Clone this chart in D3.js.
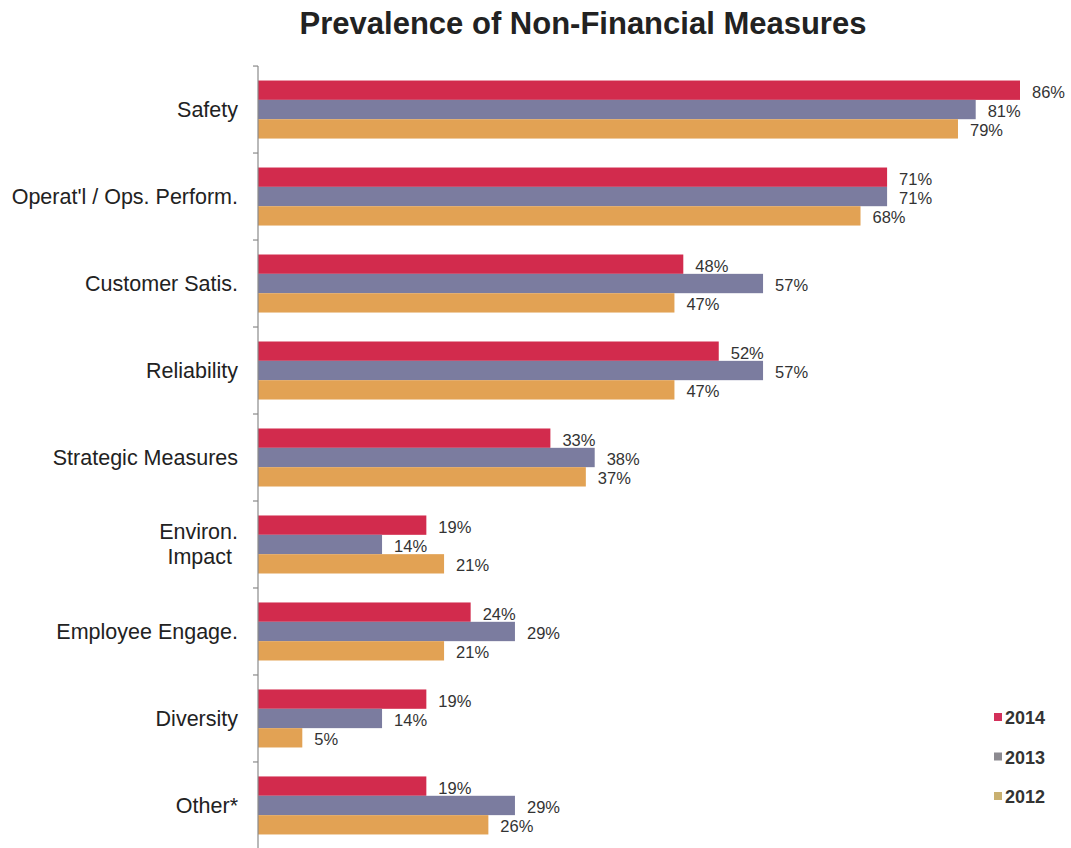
<!DOCTYPE html>
<html>
<head>
<meta charset="utf-8">
<script src="https://cdn.jsdelivr.net/npm/d3@7"></script>
<style>
  html, body { margin: 0; padding: 0; background: #fff; }
  svg { display: block; font-family: "Liberation Sans", Arial, sans-serif; }
</style>
</head>
<body>
<svg id="chart" width="1071" height="848"></svg>
<script>
// Non-financial measure categories (top to bottom)
const categories = [
  "Safety",
  "Operat'l / Ops. Perform.",
  "Customer Satis.",
  "Reliability",
  "Strategic Measures",
  "Environ.\nImpact",
  "Employee Engage.",
  "Diversity",
  "Other*"
];
const years = ["2014", "2013", "2012"];
const values2014 = [86, 71, 48, 52, 33, 19, 24, 19, 19];
const values2013 = [81, 71, 57, 57, 38, 14, 29, 14, 29];
const values2012 = [79, 68, 47, 47, 37, 21, 21, 5, 26];
const seriesValues = [values2014, values2013, values2012];

const barColors = ["#d22b4d", "#7b7c9f", "#e2a254"];
const legendColors = ["#d3305a", "#8c8a90", "#c9b070"];

const svg = d3.select("#chart");
const axisX = 258;

const x = d3.scaleLinear().domain([0, 86]).range([axisX, 1020]);
const y = d3.scaleBand().domain(categories).range([64, 851]).paddingInner(0.333).paddingOuter(0.19);
const ySub = d3.scaleBand().domain(years).range([0, y.bandwidth()]);

// Title
svg.append("text")
  .attr("x", 583).attr("y", 34)
  .attr("text-anchor", "middle")
  .attr("font-size", 31).attr("font-weight", "bold")
  .attr("fill", "#222")
  .text("Prevalence of Non-Financial Measures");

// Bars and value labels
const groups = svg.append("g").selectAll("g")
  .data(categories)
  .join("g")
  .attr("transform", d => `translate(0,${y(d)})`);

groups.each(function (cat, ci) {
  const g = d3.select(this);
  years.forEach((yr, si) => {
    const v = seriesValues[si][ci];
    g.append("rect")
      .attr("x", x(0))
      .attr("y", ySub(yr))
      .attr("width", x(v) - x(0))
      .attr("height", ySub.bandwidth())
      .attr("fill", barColors[si]);
    g.append("text")
      .attr("x", x(v) + 12)
      .attr("y", ySub(yr) + ySub.bandwidth() / 2 + 7.5)
      .attr("font-size", 16.5)
      .attr("fill", "#333")
      .text(v + "%");
  });
});

// Category axis with tick marks between groups
const gap = (y.step() - y.bandwidth()) / 2;
const boundaries = categories.map(c => y(c) - gap).concat([y(categories[categories.length - 1]) + y.bandwidth() + gap]);
const axisG = svg.append("g");
axisG.append("line")
  .attr("x1", x(0)).attr("x2", x(0))
  .attr("y1", boundaries[0]).attr("y2", 848)
  .attr("stroke", "#8a8a8a").attr("stroke-width", 1.2);
axisG.selectAll("line.tick")
  .data(boundaries)
  .join("line")
  .attr("class", "tick")
  .attr("x1", x(0) - 5).attr("x2", x(0))
  .attr("y1", d => d).attr("y2", d => d)
  .attr("stroke", "#8a8a8a").attr("stroke-width", 1.2);

// Category labels
axisG.selectAll("text.cat")
  .data(categories)
  .join("text")
  .attr("class", "cat")
  .attr("text-anchor", "end")
  .attr("font-size", 21.5)
  .attr("fill", "#222")
  .each(function (d) {
    const lines = d.split("\n");
    const cy = y(d) + y.bandwidth() / 2;
    const lh = 25;
    const t = d3.select(this);
    lines.forEach((ln, i) => {
      t.append("tspan")
        .attr("x", i === 0 ? 238 : 232)
        .attr("y", cy + 7.5 + (i - (lines.length - 1) / 2) * lh)
        .text(ln);
    });
  });

// Legend
const legend = svg.append("g");
years.forEach((yr, i) => {
  const ly = 724 + i * 39.5;
  legend.append("rect")
    .attr("x", 994).attr("y", ly - 11)
    .attr("width", 8).attr("height", 8)
    .attr("fill", legendColors[i]);
  legend.append("text")
    .attr("x", 1005).attr("y", ly)
    .attr("font-size", 18).attr("font-weight", "bold")
    .attr("fill", "#333")
    .text(yr);
});
</script>
</body>
</html>
